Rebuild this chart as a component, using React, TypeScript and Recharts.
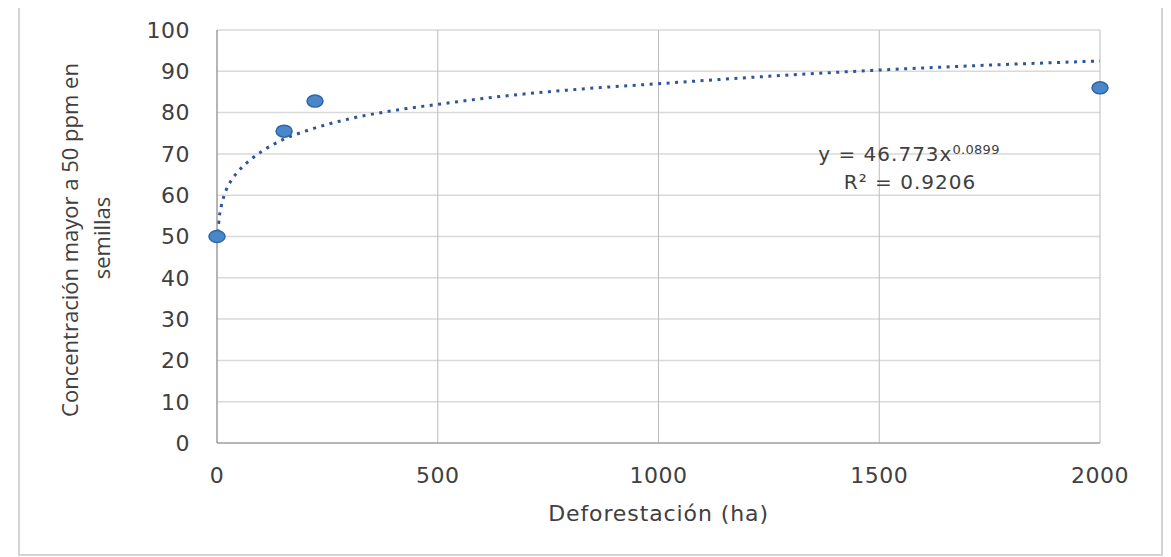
import { ComposedChart, Line, Scatter, XAxis, YAxis, CartesianGrid } from 'recharts';

// observed points (deforestation ha, concentration)
const deforestacion = [0, 152, 222, 2000];
const concentracion = [50, 75.5, 82.8, 86];

// dotted power trendline
const trendX = [2, 5, 10, 20, 35, 50, 75, 100, 150, 200, 300, 400, 500, 650, 800, 1000, 1250, 1500, 1750, 2000];
const trendY = [51, 54.5, 57.5, 61, 64, 66, 68.5, 70.5, 73.5, 75.5, 78.5, 80.5, 82, 84, 85.5, 87, 88.8, 90.3, 91.5, 92.5];

const xTicks = [0, 500, 1000, 1500, 2000];
const yTicks = [0, 10, 20, 30, 40, 50, 60, 70, 80, 90, 100];

const points = deforestacion.map((x, i) => ({ x, y: concentracion[i] }));
const trend = trendX.map((x, i) => ({ x, y: trendY[i] }));

const txt = '#404040';
const horizFont = '"DejaVu Sans", sans-serif';

const Marker = (p: any) => (
  <ellipse cx={p.cx} cy={p.cy} rx={8} ry={6} fill="#4A86C8" stroke="#2E66AA" strokeWidth={1.5} />
);

const YLabel = () => (
  <g fill={txt} fontFamily='"Open Sans", sans-serif' fontSize={22}>
    <text x={78} y={240} textAnchor="middle" transform="rotate(-90, 78, 240)">
      Concentración mayor a 50 ppm en
    </text>
    <text x={110} y={238} textAnchor="middle" transform="rotate(-90, 110, 238)">
      semillas
    </text>
  </g>
);

const XLabel = (props: any) => {
  const vb = props.viewBox;
  return (
    <text x={vb.x + vb.width / 2} y={521} textAnchor="middle" fill={txt}
      fontFamily={horizFont} fontSize={22} letterSpacing={0.9}>
      Deforestación (ha)
    </text>
  );
};

export default function App() {
  return (
    <div style={{ position: 'relative', width: 1171, height: 557, margin: '-8px 0 0 -8px', background: '#fff' }}>
      <div style={{ position: 'absolute', left: 18, top: 1, width: 1141, height: 551, border: '2px solid #d4d4d4' }} />
      <div style={{ position: 'absolute', left: 0, top: 0 }}>
        <ComposedChart width={1171} height={557} margin={{ top: 30, right: 71, bottom: 84, left: 157 }}>
          <CartesianGrid horizontal vertical={false} stroke="#d9d9d9" strokeWidth={1.5} />
          <CartesianGrid horizontal={false} vertical stroke="#bdbdbd" strokeWidth={1} />
          <XAxis type="number" dataKey="x" domain={[0, 2000]} ticks={xTicks} height={30}
            stroke="#8c8c8c" tickLine={false} tickSize={6} tickMargin={18}
            tick={{ fill: txt, fontSize: 22, fontFamily: horizFont, letterSpacing: 0.5 }}
            label={{ content: XLabel }} />
          <YAxis type="number" dataKey="y" domain={[0, 100]} ticks={yTicks} width={60}
            stroke="#8c8c8c" tickLine={false} tickSize={6} tickMargin={21}
            tick={{ fill: txt, fontSize: 22, fontFamily: horizFont, letterSpacing: 0.5 }}
            label={{ content: YLabel }} />
          <Scatter data={points} dataKey="y" shape={Marker} isAnimationActive={false} />
          <Line data={trend} dataKey="y" type="monotone" stroke="#2F5597" strokeWidth={3}
            strokeDasharray="3 5.5" dot={false} activeDot={false} isAnimationActive={false} />
        </ComposedChart>
      </div>
      <div style={{ position: 'absolute', left: 909, top: 142, transform: 'translateX(-50%)', whiteSpace: 'nowrap',
        fontFamily: horizFont, fontSize: 20, letterSpacing: 1, color: txt, lineHeight: '24px' }}>
        y = 46.773x<sup style={{ fontSize: 13, letterSpacing: 0.3, verticalAlign: 'top', position: 'relative', top: -4 }}>0.0899</sup>
      </div>
      <div style={{ position: 'absolute', left: 910, top: 170, transform: 'translateX(-50%)', whiteSpace: 'nowrap',
        fontFamily: horizFont, fontSize: 20, letterSpacing: 1, color: txt, lineHeight: '24px' }}>
        R² = 0.9206
      </div>
    </div>
  );
}
